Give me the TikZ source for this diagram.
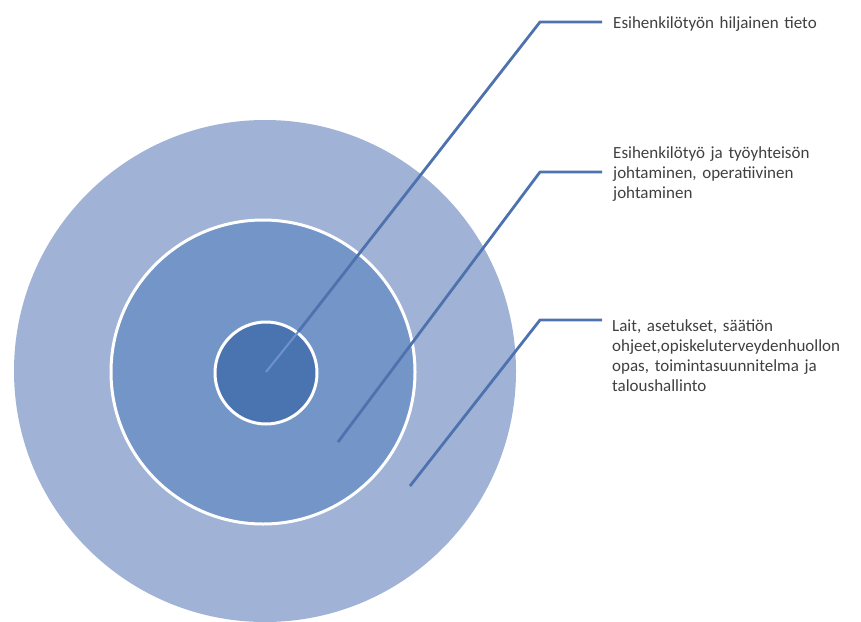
\documentclass[tikz,border=0pt]{standalone}
\usepackage{fontspec}
\setmainfont{Carlito}
\definecolor{outerc}{HTML}{A0B3D6}
\definecolor{midc}{HTML}{7395C8}
\definecolor{innerc}{HTML}{4A74B0}
\definecolor{linec}{HTML}{4E72AE}
\definecolor{faintc}{HTML}{6F92CB}
\definecolor{txt}{HTML}{404040}
\begin{document}
\begin{tikzpicture}[x=1pt,y=-1pt,
  ring/.style={circle,draw=white,line width=3pt,inner sep=0pt},
  leader/.style={draw=linec,line width=2.8pt,line join=round},
  lbl/.style={anchor=north west,align=left,text width=250pt,inner sep=0pt,
    font=\fontsize{17}{20}\selectfont,text=txt}]
\useasboundingbox (0,0) rectangle (861,621);
\clip (0,0) rectangle (861,621);
\node[circle,fill=outerc,minimum size=502pt,inner sep=0pt] (outer) at (265,371) {};
\node[ring,fill=midc,minimum size=304pt] (mid) at (263,372) {};
\node[ring,fill=innerc,minimum size=102pt] (inner) at (266,373) {};
% leader end points
\coordinate (s1) at (266,372);
\coordinate (b1) at (540,22);
\coordinate (e1) at (602,22);
\coordinate (s2) at (338,442);
\coordinate (b2) at (540,172);
\coordinate (e2) at (602,172);
\coordinate (s3) at (410,486);
\coordinate (b3) at (540,320);
\coordinate (e3) at (602,320);
\draw[draw=faintc,line width=2pt] (s1) -- (inner.52);
\draw[leader] (inner.52) -- (b1) -- (e1);
\draw[leader] (s2) -- (b2) -- (e2);
\draw[leader] (s3) -- (b3) -- (e3);
\node[lbl] (t1) at (613,16) {Esihenkilötyön hiljainen tieto};
\node[lbl] (t2) at (613,146) {Esihenkilötyö ja työyhteisön\\johtaminen, operatiivinen\\johtaminen};
\node[lbl] (t3) at (612,319) {Lait, asetukset, säätiön\\ohjeet,opiskeluterveydenhuollon\\opas, toimintasuunnitelma ja\\taloushallinto};
\end{tikzpicture}
\end{document}
